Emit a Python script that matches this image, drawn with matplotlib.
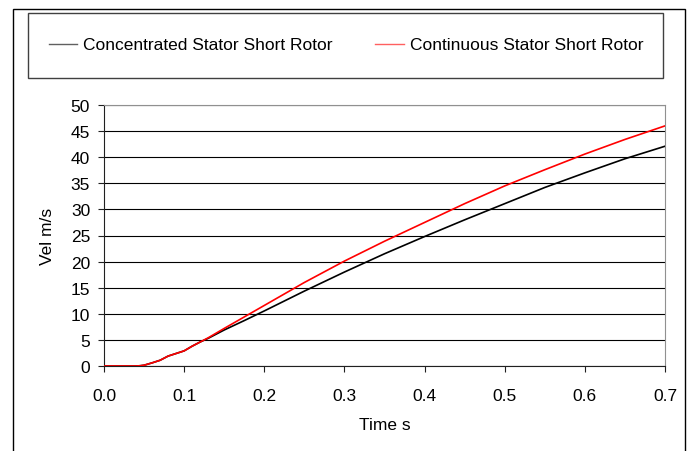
import matplotlib
matplotlib.use("Agg")
import matplotlib.pyplot as plt
from matplotlib.patches import Rectangle
from matplotlib.lines import Line2D

plt.rcParams["font.family"] = ["Liberation Sans", "DejaVu Sans"]

# Data (time in s, velocity in m/s)
t_conc = [0.0, 0.02, 0.04, 0.045, 0.05, 0.06, 0.07, 0.08, 0.09, 0.10, 0.11, 0.12,
          0.13, 0.15, 0.175, 0.20, 0.25, 0.30, 0.35, 0.40, 0.45, 0.50, 0.55,
          0.60, 0.65, 0.70]
v_conc = [0.0, 0.0, 0.0, 0.05, 0.15, 0.6, 1.1, 1.9, 2.4, 2.9, 3.8, 4.6,
          5.3, 6.9, 8.7, 10.55, 14.35, 18.0, 21.5, 24.8, 28.0, 31.1, 34.2,
          37.0, 39.7, 42.1]

t_cont = [0.0, 0.02, 0.04, 0.045, 0.05, 0.06, 0.07, 0.08, 0.09, 0.10, 0.11, 0.12,
          0.13, 0.15, 0.175, 0.20, 0.25, 0.30, 0.35, 0.40, 0.45, 0.50, 0.55,
          0.60, 0.65, 0.70]
v_cont = [0.0, 0.0, 0.0, 0.05, 0.15, 0.6, 1.1, 1.9, 2.4, 2.9, 3.8, 4.6,
          5.4, 7.2, 9.4, 11.6, 16.0, 20.1, 23.9, 27.5, 31.1, 34.5, 37.6,
          40.6, 43.4, 46.0]

labels = ["Concentrated Stator Short Rotor", "Continuous Stator Short Rotor"]
colors = ["black", "red"]

W, H = 694, 452
fig = plt.figure(figsize=(W / 100, H / 100), dpi=100)

# outer chart frame and legend box (pixel coords -> figure fraction)
fig.patches.append(Rectangle((13 / W, -0.05), (685 - 13) / W, 1 - 10 / H + 0.05,
                             transform=fig.transFigure, fill=False, ec="black", lw=1.0))
fig.patches.append(Rectangle((28 / W, 1 - 79 / H), (663 - 28) / W, 65 / H,
                             transform=fig.transFigure, fill=False, ec="#404040", lw=1.0))

ax = fig.add_axes([104 / W, 1 - 367 / H, (665 - 104) / W, (367 - 106) / H])
ax.plot(t_conc, v_conc, color=colors[0], lw=1.2, zorder=3)
ax.plot(t_cont, v_cont, color=colors[1], lw=1.2, zorder=4)

ax.set_xlim(0, 0.7)
ax.set_ylim(0, 50)
ax.set_xticks([0.0, 0.1, 0.2, 0.3, 0.4, 0.5, 0.6, 0.7])
ax.set_yticks(range(0, 51, 5))
ax.xaxis.set_major_formatter(matplotlib.ticker.FormatStrFormatter("%.1f"))
ax.yaxis.grid(True, color="black", lw=0.8)
ax.set_axisbelow(True)
ax.tick_params(axis="both", direction="out", length=4, width=0.8, labelsize=12.5, color="#202020")
ax.tick_params(axis="y", pad=6)
ax.tick_params(axis="x", pad=12)
for side in ["top", "right"]:
    ax.spines[side].set_color("#909090")
for side in ["left", "bottom"]:
    ax.spines[side].set_color("#202020")
for s in ax.spines.values():
    s.set_linewidth(0.8)

ax.set_xlabel("Time s", fontsize=12.5, labelpad=10)
ax.set_ylabel("Vel m/s", fontsize=12.5, labelpad=11)

# legend entries drawn in figure pixels
ly = 1 - 45 / H
fig.lines.append(Line2D([49 / W, 77 / W], [ly, ly], transform=fig.transFigure,
                        color="#606060", lw=1.0))
fig.text(83 / W, ly, labels[0], fontsize=12.5, va="center", ha="left")
fig.lines.append(Line2D([375 / W, 404 / W], [ly, ly], transform=fig.transFigure,
                        color="#ff6060", lw=1.0))
fig.text(410 / W, ly, labels[1], fontsize=12.5, va="center", ha="left")

fig.savefig("out.png", dpi=100)
